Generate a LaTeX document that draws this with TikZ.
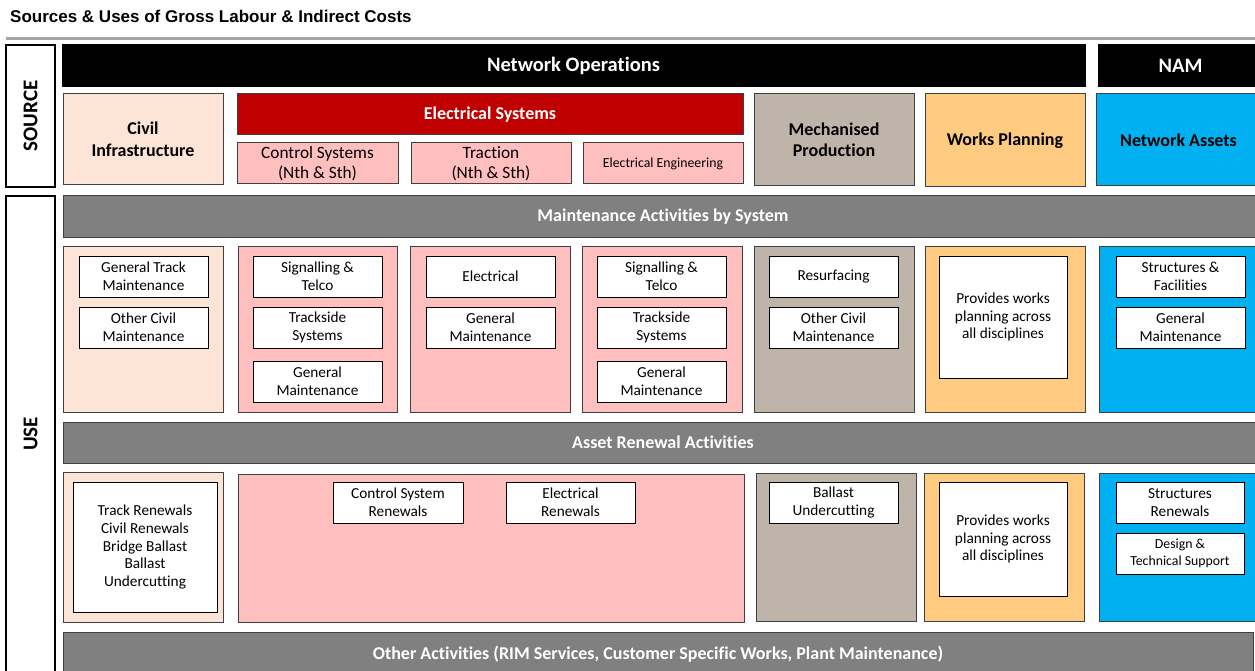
\documentclass[tikz,border=0pt]{standalone}
\usepackage{fontspec}
\setmainfont{Carlito}[Ligatures=NoCommon]
\newfontfamily\titlefont{Liberation Sans}
\usepackage{xcolor}
\usetikzlibrary{positioning}
\definecolor{civilpeach}{HTML}{FCE4D6}
\definecolor{elecpink}{HTML}{FFBFBF}
\definecolor{elecred}{HTML}{C00000}
\definecolor{mechtan}{HTML}{BEB4AA}
\definecolor{worksgold}{HTML}{FFCB80}
\definecolor{assetblue}{HTML}{00B0F0}
\definecolor{bargray}{HTML}{808080}
\definecolor{rulegray}{HTML}{A6A6A6}
\definecolor{edge}{HTML}{404040}
\newcommand\itemsize{\fontsize{15.3}{17.9}\selectfont}
\newcommand\hdrsize{\fontsize{18}{21.5}\selectfont}

\begin{document}
\begin{tikzpicture}[x=1pt,y=-1pt,
  box/.style={rectangle, draw=edge, line width=1pt, anchor=north west,
              inner sep=0pt, outer sep=0pt, align=center},
  wh/.style 2 args={minimum width=#1pt, minimum height=#2pt},
  hdr/.style={box, fill=black, draw=black, text=white, font=\bfseries\fontsize{20.5}{24}\selectfont},
  col/.style={box, font=\bfseries\hdrsize},
  sub/.style={box, fill=elecpink, font=\fontsize{17.3}{19.5}\selectfont},
  bar/.style={box, fill=bargray, text=white, font=\bfseries\fontsize{18}{21}\selectfont},
  item/.style={box, fill=white, draw=black, wh={129}{41}, font=\itemsize},
  side/.style={rotate=90, font=\bfseries\fontsize{21}{24}\selectfont}
]
\useasboundingbox (0,0) rectangle (1255,671);
\clip (0,0) rectangle (1255,671);

% Title and rule
\node[anchor=west, inner sep=0pt, font=\titlefont\bfseries\fontsize{17}{20}\selectfont]
  (title) at (10,16) {Sources \& Uses of Gross Labour \& Indirect Costs};
\draw[rulegray, line width=3pt] (6,39) -- (1260,39);

% Side labels
\node[box, fill=white, draw=black, line width=1.3pt, wh={49}{142}] (srcBox) at (6,45) {};
\node[side] (srcLbl) at (srcBox.center) {SOURCE};
\node[box, fill=white, draw=black, line width=1.3pt, wh={49}{490}] (useBox) at (6,196) {};
\node[side] (useLbl) at (30.5,434) {USE};

% Source row
\node[hdr, wh={1023}{42}] (netOps) at (62,45) {Network Operations};
\node[hdr, wh={165}{42}] (nam) at (1098,45) {NAM};
\node[col, fill=civilpeach, wh={160}{91}] (civSrc) at (63,94) {Civil\\Infrastructure};
\node[box, fill=elecred, draw=edge, text=white, font=\bfseries\fontsize{18}{21}\selectfont,
      wh={506}{41}] (elecSys) at (237,94) {Electrical Systems};
\node[sub, wh={161}{41}] (ctrlSrc) at (237,143) {Control Systems\\(Nth \& Sth)};
\node[sub, wh={160}{41}] (tracSrc) at (411,143) {Traction\\(Nth \& Sth)};
\node[sub, wh={160}{41}, font=\fontsize{13.8}{16}\selectfont] (eeSrc) at (583,143) {Electrical Engineering};
\node[col, fill=mechtan, wh={160}{92}] (mechSrc) at (754,94) {Mechanised\\Production};
\node[col, fill=worksgold, wh={160}{93}] (wpSrc) at (925,94) {Works Planning};
\node[col, fill=assetblue, wh={165}{92}] (naSrc) at (1096,94) {Network Assets};

% Maintenance row
\node[bar, wh={1200}{41}] (maintBar) at (63,196) {Maintenance Activities by System};
\node[box, fill=civilpeach, wh={160}{166}] (civM) at (63,246) {};
\node[box, fill=elecpink, wh={159}{166}] (ctrlM) at (238,246) {};
\node[box, fill=elecpink, wh={160}{166}] (tracM) at (410,246) {};
\node[box, fill=elecpink, wh={160}{166}] (eeM) at (582,246) {};
\node[box, fill=mechtan, wh={160}{166}] (mechM) at (754,246) {};
\node[box, fill=worksgold, wh={160}{166}] (wpM) at (925,246) {};
\node[box, fill=assetblue, wh={165}{166}] (naM) at (1099,246) {};

\node[item] (gtmM) at (79,256) {General Track\\Maintenance};
\node[item] (ocmM) at (79,307) {Other Civil\\Maintenance};
\node[item] (sigM) at (253,256) {Signalling \&\\Telco};
\node[item] (trkM) at (253,307) {Trackside\\Systems};
\node[item] (gmCtrlM) at (253,361) {General\\Maintenance};
\node[item] (elecM) at (426,256) {Electrical};
\node[item] (gmTracM) at (426,307) {General\\Maintenance};
\node[item] (sigEeM) at (597,256) {Signalling \&\\Telco};
\node[item] (trkEeM) at (597,307) {Trackside\\Systems};
\node[item] (gmEeM) at (597,361) {General\\Maintenance};
\node[item] (resM) at (769,256) {Resurfacing};
\node[item] (ocmMechM) at (769,307) {Other Civil\\Maintenance};
\node[item, wh={128}{122}] (provM) at (939,256) {Provides works\\planning across\\all disciplines};
\node[item] (sfM) at (1116,256) {Structures \&\\Facilities};
\node[item] (gmNaM) at (1116,307) {General\\Maintenance};

% Renewal row
\node[bar, wh={1200}{41}] (renBar) at (63,422) {Asset Renewal Activities};
\node[box, fill=civilpeach, wh={160}{150}] (civR) at (63,472) {};
\node[box, fill=elecpink, wh={506}{148}] (elecR) at (238,474) {};
\node[box, fill=mechtan, wh={160}{148}] (mechR) at (756,473) {};
\node[box, fill=worksgold, wh={160}{148}] (wpR) at (924,473) {};
\node[box, fill=assetblue, wh={165}{148}] (naR) at (1099,473) {};

\node[item, wh={144}{130}] (trkR) at (73,482)
  {Track Renewals\\Civil Renewals\\Bridge Ballast\\Ballast\\Undercutting};
\node[item, wh={130}{41}] (csR) at (333,482) {Control System\\Renewals};
\node[item] (erR) at (506,482) {Electrical\\Renewals};
\node[item] (buR) at (769,482) {Ballast\\Undercutting};
\node[item, wh={128}{114}] (provR) at (939,482) {Provides works\\planning across\\all disciplines};
\node[item, wh={128}{41}] (srR) at (1116,482) {Structures\\Renewals};
\node[item, wh={128}{41}, font=\fontsize{13.8}{16.5}\selectfont] (dtsR) at (1116,533)
  {Design \&\\Technical Support};

% Other activities
\node[bar, wh={1190}{48}] (otherBar) at (63,632) {};
\node[text=white, font=\bfseries\fontsize{18}{21}\selectfont] (otherLbl) at (658,654)
  {Other Activities (RIM Services, Customer Specific Works, Plant Maintenance)};
\end{tikzpicture}
\end{document}
